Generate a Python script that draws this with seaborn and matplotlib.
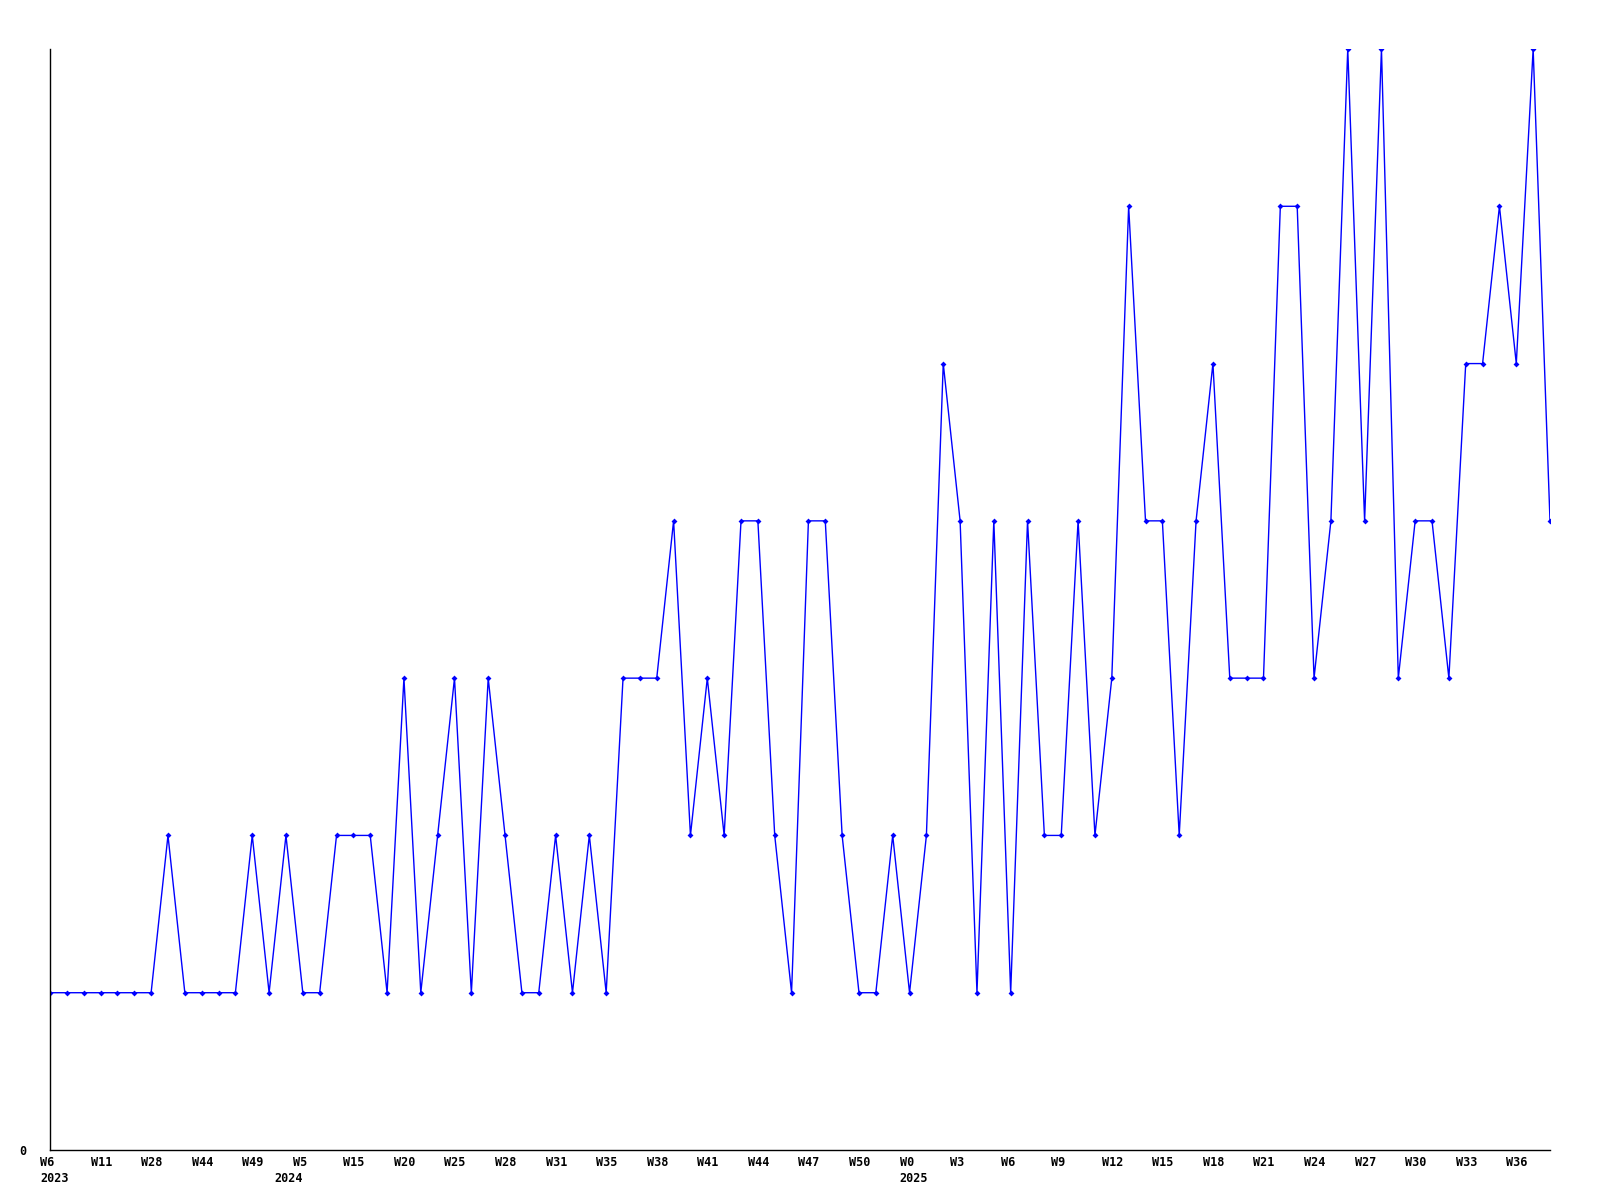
import matplotlib
matplotlib.use("Agg")
import matplotlib.pyplot as plt
import matplotlib.transforms as mtransforms
import seaborn as sns
import pandas as pd

values = [1, 1, 1, 1, 1, 1, 1, 2, 1, 1, 1, 1, 2, 1, 2, 1, 1, 2, 2, 2,
          1, 3, 1, 2, 3, 1, 3, 2, 1, 1, 2, 1, 2, 1, 3, 3, 3, 4, 2, 3,
          2, 4, 4, 2, 1, 4, 4, 2, 1, 1, 2, 1, 2, 5, 4, 1, 4, 1, 4, 2,
          2, 4, 2, 3, 6, 4, 4, 2, 4, 5, 3, 3, 3, 6, 6, 3, 4, 7, 4, 7,
          3, 4, 4, 3, 5, 5, 6, 5, 7, 4]
week_labels = ["W6", "W11", "W28", "W44", "W49", "W5", "W15", "W20", "W25", "W28",
               "W31", "W35", "W38", "W41", "W44", "W47", "W50", "W0", "W3", "W6",
               "W9", "W12", "W15", "W18", "W21", "W24", "W27", "W30", "W33", "W36"]
year_labels = {0: "2023", 5: "2024", 17: "2025"}
label_step = 3

df = pd.DataFrame({"idx": range(len(values)), "value": values})

sns.set_style("white")
plt.rcParams["font.family"] = ["DejaVu Sans Mono", "DejaVu Sans"]

fig = plt.figure(figsize=(16, 12), dpi=100)
ax = fig.add_axes([50 / 1600, 50 / 1200, 1500 / 1600, 1101 / 1200])

sns.lineplot(data=df, x="idx", y="value", ax=ax, color="#0000ff", linewidth=1.0,
             marker="D", markersize=3, markeredgewidth=0, markerfacecolor="#0000ff")

ax.set_xlim(0, len(values) - 1)
ax.set_ylim(0, 7)
ax.set_xlabel("")
ax.set_ylabel("")
ax.set_xticks([])

blend = mtransforms.blended_transform_factory(ax.transData, ax.transAxes)


def px_offset(dx, dy):
    return blend + mtransforms.ScaledTranslation(dx / 100, dy / 100, fig.dpi_scale_trans)


for i, w in enumerate(week_labels):
    xpos = i * label_step
    ax.text(xpos, 0, w, transform=px_offset(-10, -12), ha="left", va="center",
            fontsize=8.5, fontweight="bold", color="black", clip_on=False)
    if i in year_labels:
        dx = -28 if year_labels[i] == "2024" else -10
        ax.text(xpos, 0, year_labels[i], transform=px_offset(dx, -28), ha="left",
                va="center", fontsize=8.5, fontweight="bold", color="black", clip_on=False)

ax.set_yticks([0])
ax.set_yticklabels(["0"], fontsize=8.5, fontweight="bold")
ax.tick_params(axis="both", length=0, colors="black")
ax.tick_params(axis="y", pad=17)

for side in ["top", "right"]:
    ax.spines[side].set_visible(False)
for side in ["left", "bottom"]:
    ax.spines[side].set_color("black")
    ax.spines[side].set_linewidth(1.0)

fig.savefig("out.png", dpi=100, facecolor="white")
